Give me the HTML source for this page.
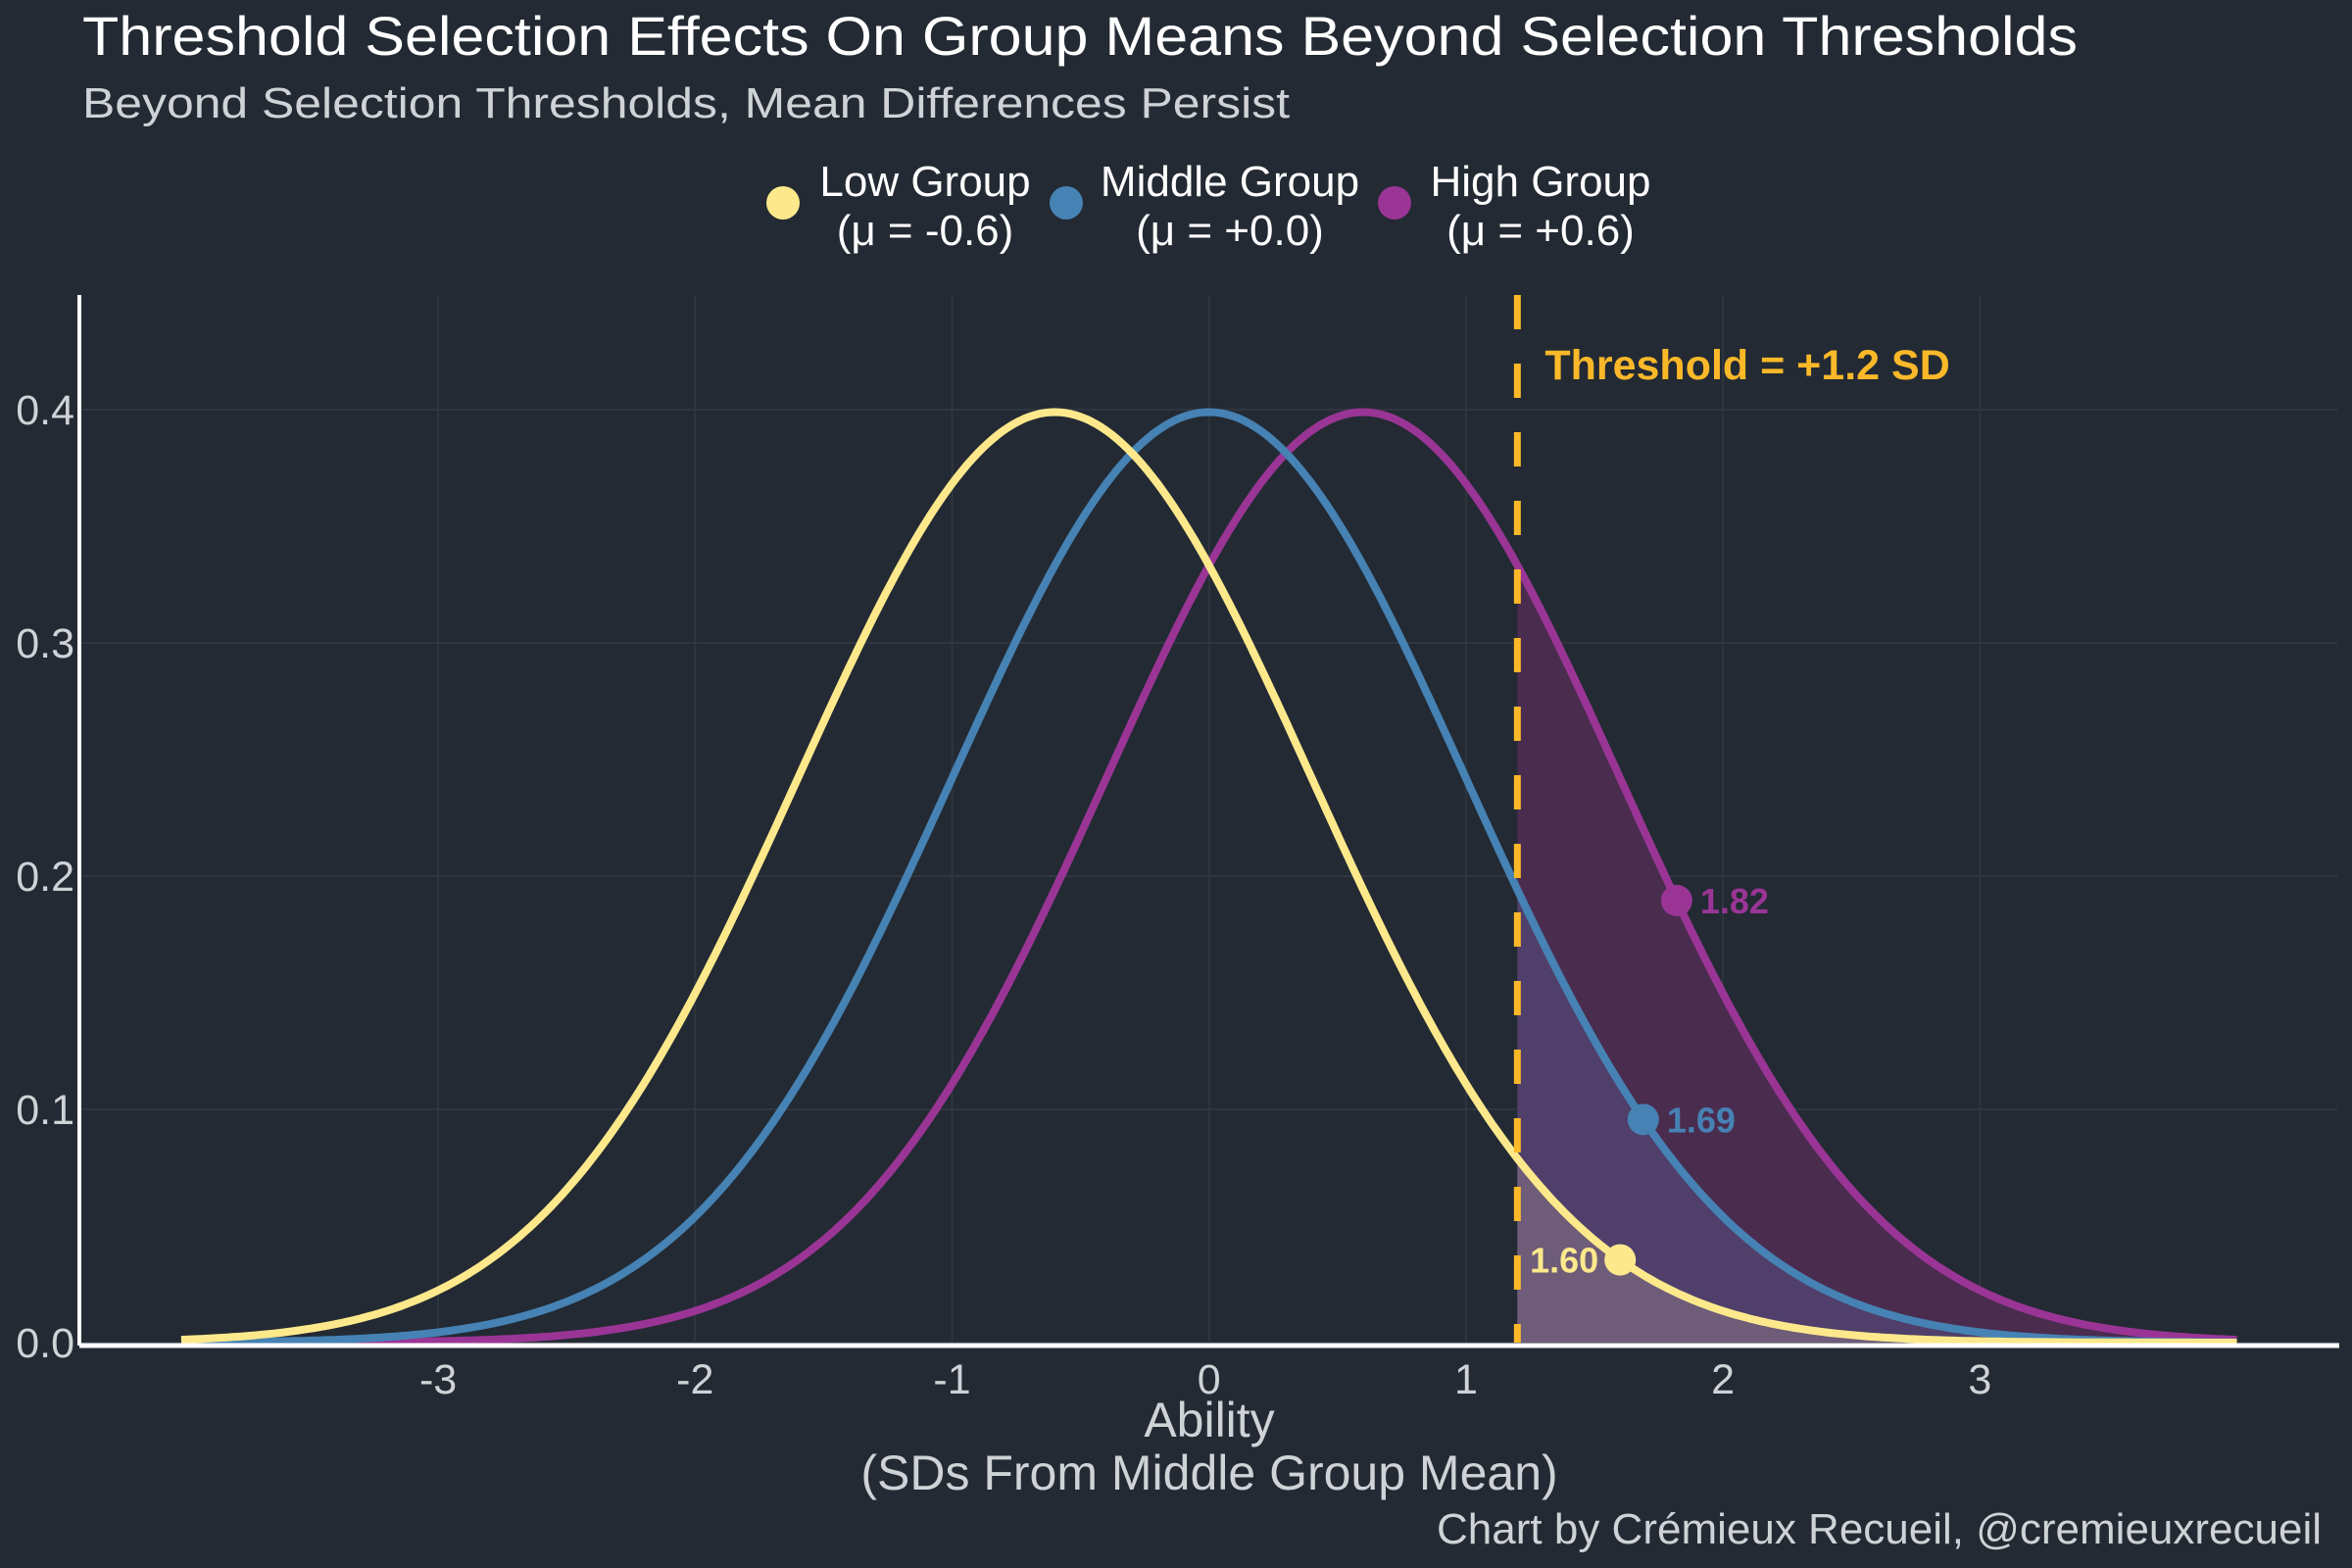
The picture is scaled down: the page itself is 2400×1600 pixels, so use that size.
<!DOCTYPE html>
<html><head><meta charset="utf-8"><style>
html,body{margin:0;padding:0;background:#232a33;}
svg{display:block;font-family:"Liberation Sans",Arial,sans-serif;}
</style></head><body>
<svg id="chart" width="2400" height="1600" viewBox="0 0 2400 1600">
<rect width="2400" height="1600" fill="#232a33"/>
<text x="84" y="56" font-size="56" fill="#ffffff" textLength="2036" lengthAdjust="spacingAndGlyphs">Threshold Selection Effects On Group Means Beyond Selection Thresholds</text>
<text x="84" y="120" font-size="44" fill="#cfd2d6" textLength="1232" lengthAdjust="spacingAndGlyphs">Beyond Selection Thresholds, Mean Differences Persist</text>
<g id="legend"></g>
<g id="grid"></g>
<g id="fills"></g>
<g id="curves"></g>
<g id="thresh"></g>
<g id="points"></g>
<g id="axes"></g>
<text x="1234" y="1466" font-size="50" fill="#cfd2d6" text-anchor="middle">Ability</text>
<text x="1234" y="1520" font-size="50" fill="#cfd2d6" text-anchor="middle">(SDs From Middle Group Mean)</text>
<text x="2369" y="1575" font-size="44" fill="#cfd2d6" text-anchor="end">Chart by Crémieux Recueil, @cremieuxrecueil</text>
</svg>
<script>
const groupNames = ["Low Group", "Middle Group", "High Group"];
const groupMeans = [-0.6, 0.0, 0.6];
const groupMeanLabels = ["(μ = -0.6)", "(μ = +0.0)", "(μ = +0.6)"];
const selectedMeans = [1.60, 1.69, 1.82];
const threshold = 1.2;
const xTicks = [-3, -2, -1, 0, 1, 2, 3];
const yTicks = [0.0, 0.1, 0.2, 0.3, 0.4];
const xMin = -4, xMax = 4;

const colors = ["#fde98c", "#4682b4", "#9a3596"];
const fillColors = ["#6e5c78", "#4f3f6a", "#4a2c4f"];
const NS = "http://www.w3.org/2000/svg";
const X0 = 1233.7, XS = 262.2, Y0 = 1370, YS = 2380;
const sx = v => X0 + v * XS;
const sy = v => Y0 - v * YS;
const pdf = (x, m) => Math.exp(-0.5 * (x - m) * (x - m)) / Math.sqrt(2 * Math.PI);
function mk(tag, attrs, parent) { const e = document.createElementNS(NS, tag); for (const k in attrs) e.setAttribute(k, attrs[k]); parent.appendChild(e); return e; }

const grid = document.getElementById("grid");
xTicks.forEach(t => {
  const l = mk("line", {x1: sx(t), x2: sx(t), y1: 301, y2: 1370, stroke: "#2f3640", "stroke-width": 2}, grid);
  
  
});
yTicks.forEach(t => {
  const l = mk("line", {x1: 81, x2: 2385, y1: sy(t), y2: sy(t), stroke: "#2f3640", "stroke-width": 2}, grid);
  
  
});

const fills = document.getElementById("fills");
const curves = document.getElementById("curves");
const order = [2, 1, 0];
order.forEach(i => {
  let d = "M" + sx(threshold) + "," + sy(0);
  for (let x = threshold; x <= xMax + 1e-9; x += 0.02) d += " L" + sx(x).toFixed(1) + "," + sy(pdf(x, groupMeans[i])).toFixed(1);
  d += " L" + sx(xMax) + "," + sy(0) + " Z";
  const p = mk("path", {d: d, fill: fillColors[i]}, fills);
  
  
});
order.forEach(i => {
  let d = "";
  for (let x = xMin; x <= xMax + 1e-9; x += 0.02) d += (d ? " L" : "M") + sx(x).toFixed(1) + "," + sy(pdf(x, groupMeans[i])).toFixed(1);
  const p = mk("path", {d: d, fill: "none", stroke: colors[i], "stroke-width": 8, "stroke-linejoin": "round"}, curves);
  
  
});

const th = document.getElementById("thresh");
const tl = mk("line", {x1: sx(threshold), x2: sx(threshold), y1: 301, y2: 1370, stroke: "#fbb829", "stroke-width": 7, "stroke-dasharray": "35 35"}, th);


const tt = mk("text", {x: sx(threshold) + 28, y: 387, "font-size": 43, "font-weight": "bold", fill: "#fbb829"}, th);
tt.textContent = "Threshold = +" + threshold.toFixed(1) + " SD";



const pts = document.getElementById("points");
selectedMeans.forEach((m, i) => {
  const cx = sx(m), cy = sy(pdf(m, groupMeans[i]));
  const c = mk("circle", {cx: cx, cy: cy, r: 16, fill: colors[i]}, pts);
  
  
  const left = i === 0;
  const t = mk("text", {x: left ? cx - 22 : cx + 24, y: cy + 13, "font-size": 36, "font-weight": "bold", fill: colors[i], "text-anchor": left ? "end" : "start"}, pts);
  t.textContent = m.toFixed(2);
  
  
});

const ax = document.getElementById("axes");
const ya = mk("line", {x1: 81, x2: 81, y1: 301, y2: 1373, stroke: "#ffffff", "stroke-width": 4}, ax);


const xa = mk("line", {x1: 81, x2: 2387, y1: 1373, y2: 1373, stroke: "#ffffff", "stroke-width": 5}, ax);


xTicks.forEach(t => {
  const e = mk("text", {x: sx(t), y: 1422, "font-size": 43, fill: "#cfd2d6", "text-anchor": "middle"}, ax);
  e.textContent = String(t);
  
  
});
yTicks.forEach(t => {
  const e = mk("text", {x: 76, y: sy(t) + 15, "font-size": 43, fill: "#cfd2d6", "text-anchor": "end"}, ax);
  e.textContent = t.toFixed(1);
  
  
});

const lg = document.getElementById("legend");
const legendDotX = [799, 1088, 1423];
const legendTextX = [944, 1255, 1572];
groupNames.forEach((n, i) => {
  const c = mk("circle", {cx: legendDotX[i], cy: 207, r: 17, fill: colors[i]}, lg);
  
  
  const t1 = mk("text", {x: legendTextX[i], y: 200, "font-size": 44, fill: "#ffffff", "text-anchor": "middle"}, lg);
  t1.textContent = n;
  
  
  const t2 = mk("text", {x: legendTextX[i], y: 250, "font-size": 44, fill: "#ffffff", "text-anchor": "middle"}, lg);
  t2.textContent = groupMeanLabels[i];
  
  
});
</script>
</body></html>
